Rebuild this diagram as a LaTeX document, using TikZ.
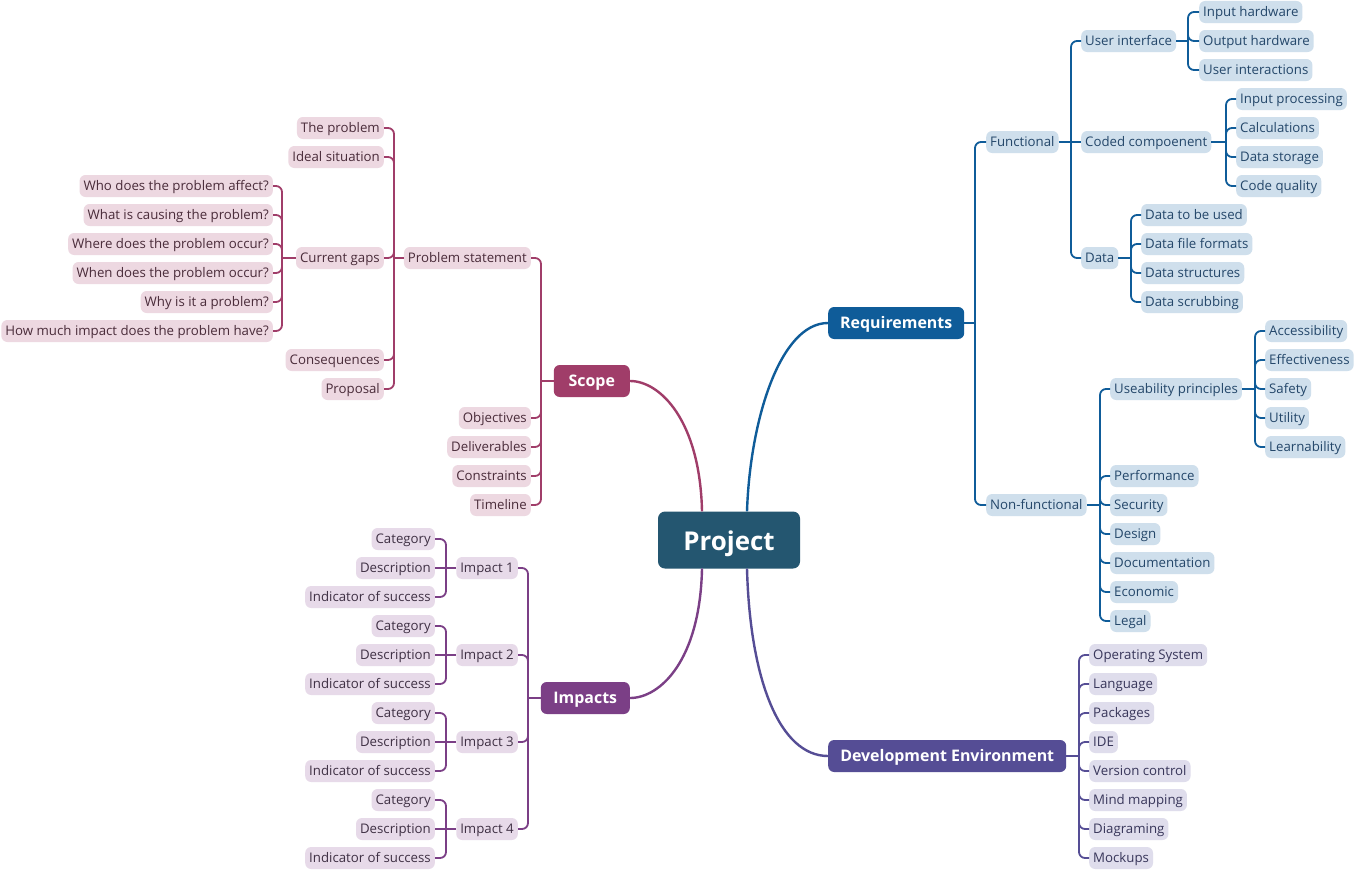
\documentclass[tikz,border=0pt]{standalone}
\usepackage{fontspec}
\setmainfont{Open Sans}
\definecolor{projC}{HTML}{245670}
\definecolor{reqC}{HTML}{0F5C99}
\definecolor{reqL}{HTML}{CFDFEC}
\definecolor{reqT}{HTML}{24476A}
\definecolor{scpC}{HTML}{A03D69}
\definecolor{scpL}{HTML}{EDD8E1}
\definecolor{scpT}{HTML}{4A2C3A}
\definecolor{impC}{HTML}{7B3F86}
\definecolor{impL}{HTML}{E7DAE9}
\definecolor{impT}{HTML}{3F3044}
\definecolor{devC}{HTML}{554D95}
\definecolor{devL}{HTML}{DFDDEC}
\definecolor{devT}{HTML}{38365A}
\begin{document}
\begin{tikzpicture}[x=1bp,y=-1bp,
  sub/.style={rounded corners=6bp, inner xsep=4bp, inner ysep=0pt, minimum height=22bp,
    text height=11.2bp, text depth=1.6bp, font=\fontsize{13.3}{15}\selectfont},
  rsub/.style={sub, fill=reqL, text=reqT},
  ssub/.style={sub, fill=scpL, text=scpT},
  isub/.style={sub, fill=impL, text=impT},
  dsub/.style={sub, fill=devL, text=devT},
  mainbox/.style={rounded corners=6bp, minimum height=32bp, inner xsep=8bp, inner ysep=0pt,
    font=\bfseries\fontsize{16}{18}\selectfont, text=white, text height=13bp, text depth=2bp},
  conn/.style={line width=1.8bp, rounded corners=6bp},
  curve/.style={line width=2.4bp},
]
\fill[white] (0,0) rectangle (1356,870);
\useasboundingbox (0,0) rectangle (1356,870);

% ---------- main nodes ----------
\node[rounded corners=7bp, fill=projC, text=white, minimum width=142bp, minimum height=57bp,
  inner ysep=0pt, text height=22bp, text depth=2bp,
  font=\bfseries\fontsize{26}{30}\selectfont] (proj) at (729,540) {Project};
\node[mainbox, fill=reqC, anchor=west, minimum width=136bp] (req) at (828,323) {Requirements};
\node[mainbox, fill=scpC, anchor=east, minimum width=76bp] (scope) at (630,381) {Scope};
\node[mainbox, fill=impC, anchor=east, minimum width=89bp] (imps) at (630,698) {Impacts};
\node[mainbox, fill=devC, anchor=west, minimum width=238bp] (dev) at (828,756) {Development Environment};

% ---------- main curves ----------
\draw[curve, reqC] ([xshift=18bp]proj.north) .. controls +(3,-91) and +(-48,0) .. (req.west);
\draw[curve, scpC] ([xshift=-27bp]proj.north) .. controls +(-2,-91) and +(30,0) .. (scope.east);
\draw[curve, impC] ([xshift=-27bp]proj.south) .. controls +(-2,92) and +(30,0) .. (imps.east);
\draw[curve, devC] ([xshift=18bp]proj.south) .. controls +(3,112) and +(-48,0) .. (dev.west);

% ---------- Requirements ----------
\coordinate (reqj) at (975,323);
\draw[conn, reqC] (req.east) -- (reqj);
\node[rsub, anchor=west] (func) at (986,142) {Functional};
\node[rsub, anchor=west] (nfun) at (986,505) {Non-functional};
\draw[conn, reqC] (reqj) |- (func.west);
\draw[conn, reqC] (reqj) |- (nfun.west);

\coordinate (funj) at (1071,142);
\draw[conn, reqC] (func.east) -- (funj);
\node[rsub, anchor=west] (ui) at (1081,41) {User interface};
\node[rsub, anchor=west] (cc) at (1081,142) {Coded compoenent};
\node[rsub, anchor=west] (dat) at (1081,258) {Data};
\draw[conn, reqC] (funj) |- (ui.west);
\draw[conn, reqC] (funj) -- (cc.west);
\draw[conn, reqC] (funj) |- (dat.west);

\coordinate (uij) at (1188,41);
\draw[conn, reqC] (ui.east) -- (uij);
\foreach \n/\y/\t in {ih/12/Input hardware, oh/41/Output hardware, uint/70/User interactions}{
  \node[rsub, anchor=west] (\n) at (1199,\y) {\t};
  \draw[conn, reqC] (uij) |- (\n.west);
}

\coordinate (ccj) at (1226,142);
\draw[conn, reqC] (cc.east) -- (ccj);
\foreach \n/\y/\t in {inp/99/Input processing, calc/128/Calculations, dst/157/Data storage, cq/186/Code quality}{
  \node[rsub, anchor=west] (\n) at (1236,\y) {\t};
  \draw[conn, reqC] (ccj) |- (\n.west);
}

\coordinate (datj) at (1131,258);
\draw[conn, reqC] (dat.east) -- (datj);
\foreach \n/\y/\t in {dtu/215/Data to be used, dff/244/Data file formats, dstr/273/Data structures, dscr/302/Data scrubbing}{
  \node[rsub, anchor=west] (\n) at (1141,\y) {\t};
  \draw[conn, reqC] (datj) |- (\n.west);
}

\coordinate (nfj) at (1100,505);
\draw[conn, reqC] (nfun.east) -- (nfj);
\foreach \n/\y/\t in {usp/389/Useability principles, perf/476/Performance, sec/505/Security, desg/534/Design, docu/563/Documentation, econ/592/Economic, legal/621/Legal}{
  \node[rsub, anchor=west] (\n) at (1110,\y) {\t};
  \draw[conn, reqC] (nfj) |- (\n.west);
}

\coordinate (upj) at (1255,389);
\draw[conn, reqC] (usp.east) -- (upj);
\foreach \n/\y/\t in {acc/331/Accessibility, eff/360/Effectiveness, saf/389/Safety, uti/418/Utility, lrn/447/Learnability}{
  \node[rsub, anchor=west] (\n) at (1265,\y) {\t};
  \draw[conn, reqC] (upj) |- (\n.west);
}

% ---------- Development Environment ----------
\coordinate (devj) at (1079,756);
\draw[conn, devC] (dev.east) -- (devj);
\foreach \n/\y/\t in {os/655/Operating System, lang/684/Language, pack/713/Packages, ide/742/IDE, vc/771/Version control, mm/800/Mind mapping, diag/829/Diagraming, mock/858/Mockups}{
  \node[dsub, anchor=west] (\n) at (1089,\y) {\t};
  \draw[conn, devC] (devj) |- (\n.west);
}

% ---------- Scope ----------
\coordinate (scpj) at (541,381);
\draw[conn, scpC] (scope.west) -- (scpj);
\foreach \n/\y/\t in {ps/258/Problem statement, obj/418/Objectives, deli/447/Deliverables, cons/476/Constraints, time/505/Timeline}{
  \node[ssub, anchor=east] (\n) at (531,\y) {\t};
  \draw[conn, scpC] (scpj) |- (\n.east);
}

\coordinate (psj) at (394,258);
\draw[conn, scpC] (ps.west) -- (psj);
\foreach \n/\y/\t in {tp/128/The problem, ideal/157/Ideal situation, cg/258/Current gaps, conseq/360/Consequences, prop/389/Proposal}{
  \node[ssub, anchor=east] (\n) at (384,\y) {\t};
  \draw[conn, scpC] (psj) |- (\n.east);
}

\coordinate (cgj) at (282,258);
\draw[conn, scpC] (cg.west) -- (cgj);
\foreach \n/\y/\t in {qa/186/Who does the problem affect?, qb/215/What is causing the problem?, qc/244/Where does the problem occur?, qd/273/When does the problem occur?, qe/302/Why is it a problem?, qf/331/How much impact does the problem have?}{
  \node[ssub, anchor=east] (\n) at (273,\y) {\t};
  \draw[conn, scpC] (cgj) |- (\n.east);
}

% ---------- Impacts ----------
\coordinate (impj) at (528,698);
\draw[conn, impC] (imps.west) -- (impj);
\foreach \k/\y in {1/568, 2/655, 3/742, 4/829}{
  \node[isub, anchor=east] (imp\k) at (518,\y) {Impact \k};
  \draw[conn, impC] (impj) |- (imp\k.east);
  \coordinate (imp\k j) at (446,\y);
  \draw[conn, impC] (imp\k.west) -- (imp\k j);
  \node[isub, anchor=east] (cat\k) at (435,\y-29) {Category};
  \node[isub, anchor=east] (des\k) at (435,\y) {Description};
  \node[isub, anchor=east] (ind\k) at (435,\y+29) {Indicator of success};
  \draw[conn, impC] (imp\k j) |- (cat\k.east);
  \draw[conn, impC] (imp\k j) -- (des\k.east);
  \draw[conn, impC] (imp\k j) |- (ind\k.east);
}
\end{tikzpicture}
\end{document}
